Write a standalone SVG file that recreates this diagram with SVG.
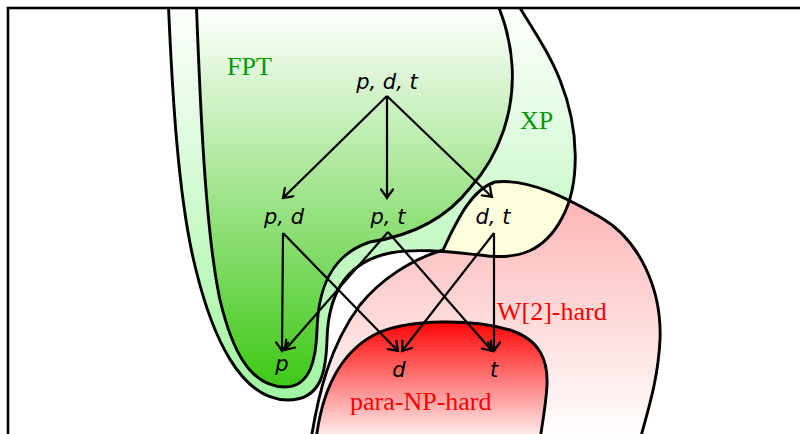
<svg xmlns="http://www.w3.org/2000/svg" xmlns:xlink="http://www.w3.org/1999/xlink" width="800" height="434" viewBox="0 0 800 434">
<style>
.edge{stroke:#000;stroke-width:2.2;fill:none;marker-end:url(#arr)}
.border{fill:none;stroke:#000;stroke-width:2.9;stroke-linejoin:round}
.node{font-family:"DejaVu Sans",sans-serif;font-style:italic;font-size:21px;text-anchor:middle;fill:#000}
.cls{font-family:"Liberation Serif",serif;font-size:26px}
.green{fill:#009a00}
.red{fill:#ff0000}
</style>
<defs>
<marker id="arr" viewBox="-10 -7 12 14" refX="0" refY="0" markerWidth="12" markerHeight="14" markerUnits="userSpaceOnUse" orient="auto">
<path d="M -8.5,-6 Q -2.5,-1.5 0,0 Q -2.5,1.5 -8.5,6" fill="none" stroke="#000" stroke-width="2.2" stroke-linecap="round"/>
</marker>
<linearGradient id="gXP" gradientUnits="userSpaceOnUse" x1="0" y1="0" x2="0" y2="400">
<stop offset="0" stop-color="#ffffff"/><stop offset="1" stop-color="#a0f5a0"/>
</linearGradient>
<linearGradient id="gFPT" gradientUnits="userSpaceOnUse" x1="0" y1="8" x2="0" y2="390">
<stop offset="0" stop-color="#ffffff"/><stop offset="1" stop-color="#3cc814"/>
</linearGradient>
<linearGradient id="gW2" gradientUnits="userSpaceOnUse" x1="0" y1="180" x2="0" y2="440">
<stop offset="0" stop-color="#ffb0b0"/><stop offset="1" stop-color="#ffffff"/>
</linearGradient>
<linearGradient id="gNP" gradientUnits="userSpaceOnUse" x1="0" y1="320" x2="0" y2="445">
<stop offset="0" stop-color="#ff0000"/><stop offset="1" stop-color="#ffffff"/>
</linearGradient>
<path id="pXP" d="M 168,-5 C 172,90 178,200 196,270 C 212,335 240,400 288,400 C 322,400 326,370 327,340 C 328,295 345,262 390,253 C 420,248 450,252 480,255 C 520,261 545,250 562,218 C 580,185 580,130 560,80 C 548,50 530,25 512,-5 Z"/>
<path id="pFPT" d="M 196,-5 C 200,100 205,230 220,300 C 232,350 250,387 285,387 C 310,387 316,360 317,330 C 318,290 330,255 370,242 C 410,236 445,220 470,188 C 500,155 515,110 512,65 C 510,35 502,15 494,-5 Z"/>
<path id="pW2" d="M 311,440 C 318,395 330,345 360,305 C 380,280 410,260 443,250 C 455,225 470,190 495,182 C 530,178 570,200 600,217 C 640,240 662,290 660,340 C 658,380 648,410 640,440 L 640,470 L 311,470 Z"/>
<path id="pNP" d="M 316,440 C 322,390 340,350 380,332 C 410,320 470,318 510,330 C 540,340 548,360 547,385 C 546,405 542,425 540,440 L 540,470 L 316,470 Z"/>
<clipPath id="frameClip"><rect x="8" y="8" width="800" height="430"/></clipPath>
<clipPath id="w2Clip"><use xlink:href="#pW2"/></clipPath>
</defs>
<rect x="0" y="0" width="800" height="434" fill="#ffffff"/>
<g clip-path="url(#frameClip)">
<g id="region-fills">
<use xlink:href="#pXP" fill="url(#gXP)"/>
<use xlink:href="#pFPT" fill="url(#gFPT)"/>
<use xlink:href="#pW2" fill="url(#gW2)"/>
<use xlink:href="#pXP" fill="#ffffdd" clip-path="url(#w2Clip)"/>
<use xlink:href="#pNP" fill="url(#gNP)"/>
</g>
<g id="region-borders">
<use xlink:href="#pXP" class="border"/>
<use xlink:href="#pFPT" class="border"/>
<use xlink:href="#pW2" class="border"/>
<use xlink:href="#pNP" class="border"/>
</g>
</g>
<g id="region-labels">
<text id="label-fpt" class="cls green" x="227" y="75">FPT</text>
<text id="label-xp" class="cls green" x="520" y="129">XP</text>
<text id="label-w2" class="cls red" x="497" y="320">W[2]-hard</text>
<text id="label-paranp" class="cls red" x="350" y="410">para-NP-hard</text>
</g>
<g id="connectors">
<line class="edge" x1="387" y1="96" x2="283" y2="198"/>
<line class="edge" x1="387" y1="96" x2="387" y2="198"/>
<line class="edge" x1="387" y1="96" x2="492" y2="197"/>
<line class="edge" x1="283" y1="233" x2="282" y2="351"/>
<line class="edge" x1="283" y1="233" x2="398" y2="351"/>
<line class="edge" x1="388" y1="232" x2="285" y2="350"/>
<line class="edge" x1="388" y1="232" x2="492" y2="351"/>
<line class="edge" x1="494" y1="233" x2="402" y2="351"/>
<line class="edge" x1="494" y1="233" x2="494" y2="351"/>
</g>
<g id="node-pdt"><text class="node" x="387" y="89">p, d, t</text></g>
<g id="node-pd"><text class="node" x="284" y="224">p, d</text></g>
<g id="node-pt"><text class="node" x="388" y="224">p, t</text></g>
<g id="node-dt"><text class="node" x="493" y="224">d, t</text></g>
<g id="node-p"><text class="node" x="282" y="371">p</text></g>
<g id="node-d"><text class="node" x="399" y="377">d</text></g>
<g id="node-t"><text class="node" x="494" y="377">t</text></g>
<rect id="frame" x="8" y="8" width="800" height="440" fill="none" stroke="#000" stroke-width="2.6"/>
</svg>
